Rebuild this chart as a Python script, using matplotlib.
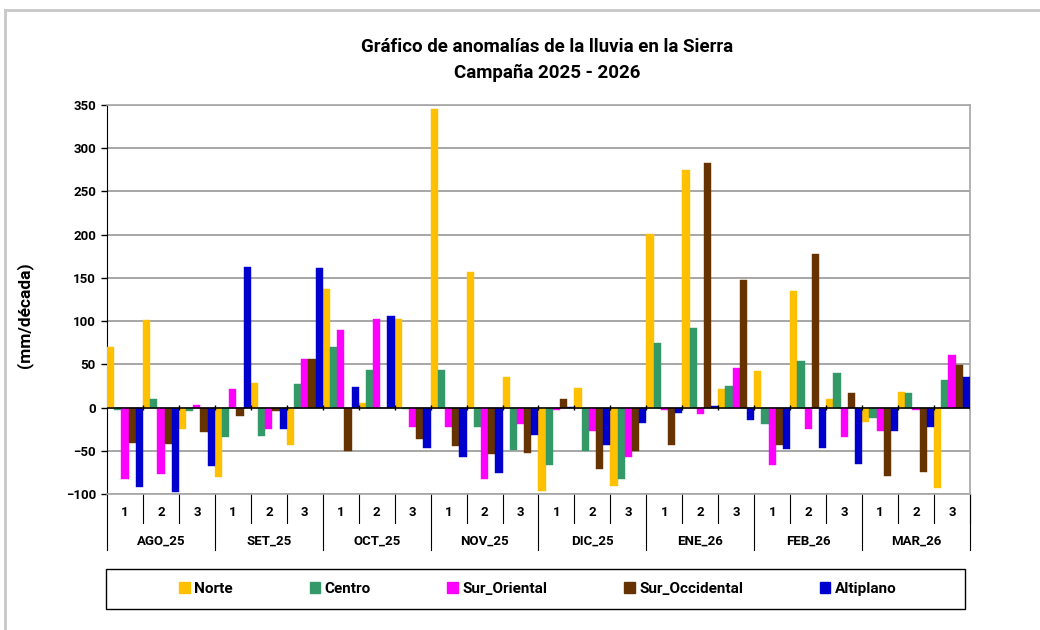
"""Rainfall anomaly chart for the Sierra, campaign 2025-2026."""

import matplotlib

matplotlib.use("Agg")
import matplotlib.pyplot as plt
import numpy as np
from matplotlib.lines import Line2D
from matplotlib.patches import Patch, Rectangle

plt.rcParams["font.family"] = ["Roboto", "DejaVu Sans"]
plt.rcParams["font.weight"] = "bold"

months = ["AGO_25", "SET_25", "OCT_25", "NOV_25", "DIC_25", "ENE_26", "FEB_26", "MAR_26"]
decades = ["1", "2", "3"]
series_names = ["Norte", "Centro", "Sur_Oriental", "Sur_Occidental", "Altiplano"]
series_colors = ["#FFC000", "#339966", "#FF00FF", "#663300", "#0000CC"]

# anomalies in mm/decade, one value per decade (8 months x 3 decades)
norte = [70, 101, -25, -80, 28, -43, 137, 5, 103, 345, 157, 35,
         -97, 23, -91, 201, 275, 21, 42, 135, 10, -17, 18, -93]
centro = [-3, 10, -4, -34, -33, 27, 70, 44, -2, 43, -22, -49,
          -66, -50, -83, 75, 92, 25, -19, 54, 40, -12, 17, 32]
sur_oriental = [-83, -77, 3, 22, -25, 56, 90, 103, -23, -22, -83, -19,
                -3, -27, -57, -3, -8, 46, -67, -25, -34, -27, -3, 61]
sur_occidental = [-41, -42, -28, -10, -4, 56, -50, 0, -36, -45, -54, -53,
                  10, -71, -50, -43, 283, 147, -43, 178, 17, -79, -75, 49]
altiplano = [-92, -98, -68, 163, -25, 161, 24, 106, -47, -57, -76, -32,
             1, -43, -18, -6, 2, -14, -48, -47, -65, -27, -23, 35]

values = [norte, centro, sur_oriental, sur_occidental, altiplano]
n_groups = len(months) * len(decades)

W, H = 1040, 630
fig = plt.figure(figsize=(W / 100, H / 100), dpi=100)

# outer chart border (left and top visible)
fig.add_artist(Line2D([5 / W, 5 / W], [0, 1 - 10 / H], color="#C8C8C8", lw=2))
fig.add_artist(Line2D([5 / W, 1.0], [1 - 10 / H, 1 - 10 / H], color="#C8C8C8", lw=2))

left, right, top, bottom = 107, 970, 105, 494
ax = fig.add_axes([left / W, 1 - bottom / H, (right - left) / W, (bottom - top) / H])

x = np.arange(n_groups)
bar_width = 0.2
for j, (name, color, vals) in enumerate(zip(series_names, series_colors, values)):
    ax.bar(x + (j - 2) * bar_width, vals, width=bar_width, color=color,
           edgecolor=color, linewidth=0.3, label=name, zorder=3)

ax.set_xlim(-0.5, n_groups - 0.5)
ax.set_ylim(-100, 350)
ax.set_yticks(np.arange(-100, 351, 50))
ax.yaxis.grid(True, color="#A6A6A6", lw=1.4, zorder=0)
ax.tick_params(axis="y", direction="out", length=4, width=1, labelsize=9.5, pad=4)
for label in ax.get_yticklabels():
    label.set_fontweight("bold")
ax.set_xticks([])

ax.spines["left"].set_color("black")
for side in ("right", "top", "bottom"):
    ax.spines[side].set_color("#A6A6A6")
    ax.spines[side].set_linewidth(1.2)

# zero axis with crossing tick marks at decade boundaries
ax.axhline(0, color="black", lw=1.1, zorder=4)
boundaries = np.arange(-0.5, n_groups, 1.0)
ax.vlines(boundaries[1:], -2.5, 2.5, color="black", lw=1, zorder=4)

ax_w = right - left
ax_h = bottom - top
ax.set_ylabel("(mm/década)", fontsize=12.5, fontweight="bold")
ax.yaxis.set_label_coords(-(left - 33) / ax_w, 1 - (315 - top) / ax_h)

# category axis below the plot: decades and months
trans = ax.get_xaxis_transform()
short_y = -(523 - bottom) / ax_h
long_y = -(550 - bottom) / ax_h
for k, b in enumerate(boundaries.tolist() + [n_groups - 0.5]):
    y_end = long_y if k % 3 == 0 else short_y
    ax.plot([b, b], [0, y_end], transform=trans, color="black", lw=0.8, clip_on=False)

for i in range(n_groups):
    ax.text(i, -(513 - bottom) / ax_h, decades[i % 3], transform=trans,
            ha="center", va="center", fontsize=9.5, fontweight="bold")
for m, month in enumerate(months):
    ax.text(m * 3 + 1, -(541 - bottom) / ax_h, month, transform=trans,
            ha="center", va="center", fontsize=9.5, fontweight="bold")

fig.text(547 / W, 1 - 47 / H, "Gráfico de anomalías de la lluvia en la Sierra",
         ha="center", va="center", fontsize=13.5, fontweight="bold")
fig.text(547 / W, 1 - 73 / H, "Campaña 2025 - 2026",
         ha="center", va="center", fontsize=13.5, fontweight="bold")

# legend box
fig.add_artist(Rectangle((106 / W, 1 - 609 / H), (965 - 106) / W, (609 - 569) / H,
                         transform=fig.transFigure, fill=False, edgecolor="black", lw=1))
handles = [Patch(facecolor=c, edgecolor=c) for c in series_colors]
fig.legend(handles, series_names, loc="center", bbox_to_anchor=(538 / W, 1 - 589 / H),
           ncol=5, frameon=False, handlelength=0.7, handleheight=0.7,
           handletextpad=0.3, columnspacing=5.0, prop={"size": 11, "weight": "bold"})

fig.savefig("out.png", dpi=100)
plt.close(fig)
